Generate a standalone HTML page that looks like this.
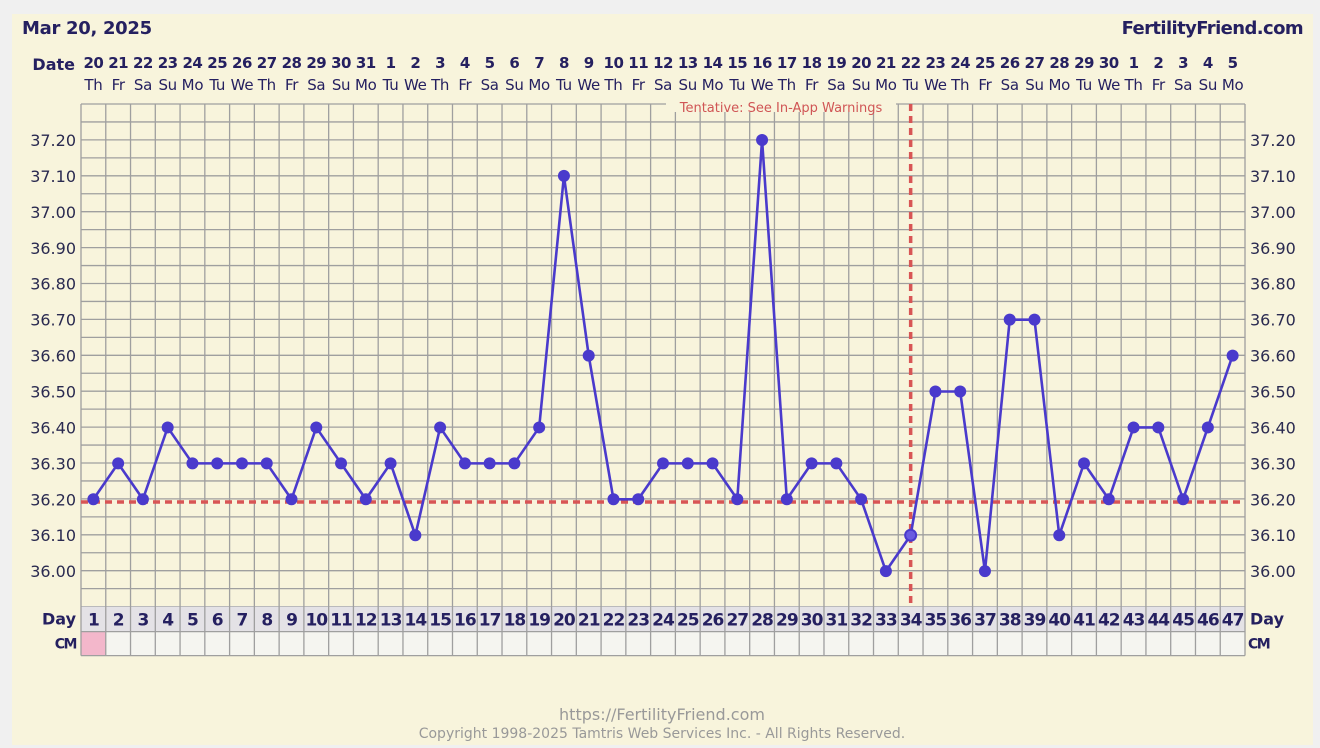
<!DOCTYPE html>
<html><head><meta charset="utf-8">
<style>
html,body{margin:0;padding:0;background:#f0f0f0;width:1320px;height:748px;overflow:hidden}
svg{display:block}
text{font-family:"DejaVu Sans","Liberation Sans",sans-serif}
</style></head>
<body>
<svg id="s" width="1320" height="748" xmlns="http://www.w3.org/2000/svg"></svg>
<script>
const s=document.getElementById('s');
let h='';
h+='<rect x="12" y="14" width="1301" height="731" fill="#f8f4dc"/>';
const L=81,R=1245,N=47,cw=(R-L)/N,T=104,gs=17.95;
const navy='#252060';
for(let i=0;i<=28;i++){const y=T+i*gs;h+=`<line x1="${L}" x2="${R}" y1="${y}" y2="${y}" stroke="#9f9f9f" stroke-width="1.3"/>`;}
const gb=T+28*gs;
h+=`<rect x="${L}" y="${gb}" width="${R-L}" height="25" fill="#e4e2e6"/>`;
h+=`<rect x="${L}" y="${gb+25}" width="${R-L}" height="24" fill="#f5f5f0"/>`;
h+=`<rect x="${L}" y="${gb+25}" width="${cw}" height="24" fill="#f3b7cb"/>`;
h+=`<line x1="${L}" x2="${R}" y1="${gb+25}" y2="${gb+25}" stroke="#9f9f9f" stroke-width="1.3"/>`;
h+=`<line x1="${L}" x2="${R}" y1="${gb+49}" y2="${gb+49}" stroke="#9f9f9f" stroke-width="1.3"/>`;
for(let i=0;i<=N;i++){const x=L+i*cw;h+=`<line x1="${x}" x2="${x}" y1="${T}" y2="${gb+49}" stroke="#9f9f9f" stroke-width="1.3"/>`;}
const wd=['Th','Fr','Sa','Su','Mo','Tu','We'];
const dates=[];for(let d=20;d<=31;d++)dates.push(d);for(let d=1;d<=30;d++)dates.push(d);for(let d=1;d<=5;d++)dates.push(d);
for(let i=0;i<N;i++){const cx=L+(i+0.5)*cw;
h+=`<text x="${cx}" y="68" text-anchor="middle" font-size="15" font-weight="bold" fill="${navy}" letter-spacing="-0.5">${dates[i]}</text>`;
h+=`<text x="${cx}" y="90" text-anchor="middle" font-size="15" fill="${navy}" letter-spacing="-0.3">${wd[i%7]}</text>`;
h+=`<text x="${cx}" y="${gb+19}" text-anchor="middle" font-size="17" font-weight="bold" fill="${navy}" letter-spacing="-1">${i+1}</text>`;}
h+=`<text x="75" y="70" text-anchor="end" font-size="16" font-weight="bold" fill="${navy}">Date</text>`;
h+=`<text x="76" y="${gb+18}" text-anchor="end" font-size="16" font-weight="bold" fill="${navy}">Day</text>`;
h+=`<text x="1250" y="${gb+18}" font-size="16" font-weight="bold" fill="${navy}">Day</text>`;
h+=`<text x="76" y="${gb+42}" text-anchor="end" font-size="14" font-weight="bold" fill="${navy}" letter-spacing="-1.5">CM</text>`;
h+=`<text x="1248" y="${gb+42}" font-size="14" font-weight="bold" fill="${navy}" letter-spacing="-1.5">CM</text>`;
h+=`<text x="22" y="34" font-size="18" font-weight="bold" fill="${navy}" letter-spacing="-0.3">Mar 20, 2025</text>`;
h+=`<text x="1303" y="34" text-anchor="end" font-size="18" font-weight="bold" fill="${navy}" letter-spacing="-0.6">FertilityFriend.com</text>`;
const Y=t=>140+(37.2-t)*359.3;
for(let k=0;k<=12;k++){const t=36+k*0.1;const y=Y(t)+6;const lab=t.toFixed(2);
h+=`<text x="76" y="${y}" text-anchor="end" font-size="16" fill="#2a2a50">${lab}</text>`;
h+=`<text x="1250" y="${y}" font-size="16" fill="#2a2a50">${lab}</text>`;}
h+=`<line x1="${L}" x2="${R}" y1="502" y2="502" stroke="#d85555" stroke-width="3.5" stroke-dasharray="7,5"/>`;
const vx=L+33.5*cw;
h+=`<line x1="${vx}" x2="${vx}" y1="${T}" y2="${gb}" stroke="#d85555" stroke-width="3.5" stroke-dasharray="7,5"/>`;
h+=`<rect x="666" y="98" width="230" height="14" fill="#f8f4dc"/>`;
h+=`<text x="781" y="112" text-anchor="middle" font-size="13" fill="#d05555">Tentative: See In-App Warnings</text>`;
const d=[36.2,36.3,36.2,36.4,36.3,36.3,36.3,36.3,36.2,36.4,36.3,36.2,36.3,36.1,36.4,36.3,36.3,36.3,36.4,37.1,36.6,36.2,36.2,36.3,36.3,36.3,36.2,37.2,36.2,36.3,36.3,36.2,36.0,36.1,36.5,36.5,36.0,36.7,36.7,36.1,36.3,36.2,36.4,36.4,36.2,36.4,36.6];
const pts=d.map((t,i)=>[L+(i+0.5)*cw,Y(t)]);
h+=`<polyline points="${pts.map(p=>p.join(',')).join(' ')}" fill="none" stroke="#4a3acc" stroke-width="2.6"/>`;
pts.forEach((p,i)=>{if(i==33)h+=`<circle cx="${p[0]}" cy="${p[1]}" r="5.5" fill="#6a5ce0" stroke="#4a3acc" stroke-width="2"/>`;else h+=`<circle cx="${p[0]}" cy="${p[1]}" r="6" fill="#4a3acc"/>`;});
h+=`<text x="662" y="720" text-anchor="middle" font-size="16" fill="#999">https://FertilityFriend.com</text>`;
h+=`<text x="662" y="738" text-anchor="middle" font-size="14" fill="#999">Copyright 1998-2025 Tamtris Web Services Inc. - All Rights Reserved.</text>`;
s.innerHTML=h;
</script>
</body></html>
